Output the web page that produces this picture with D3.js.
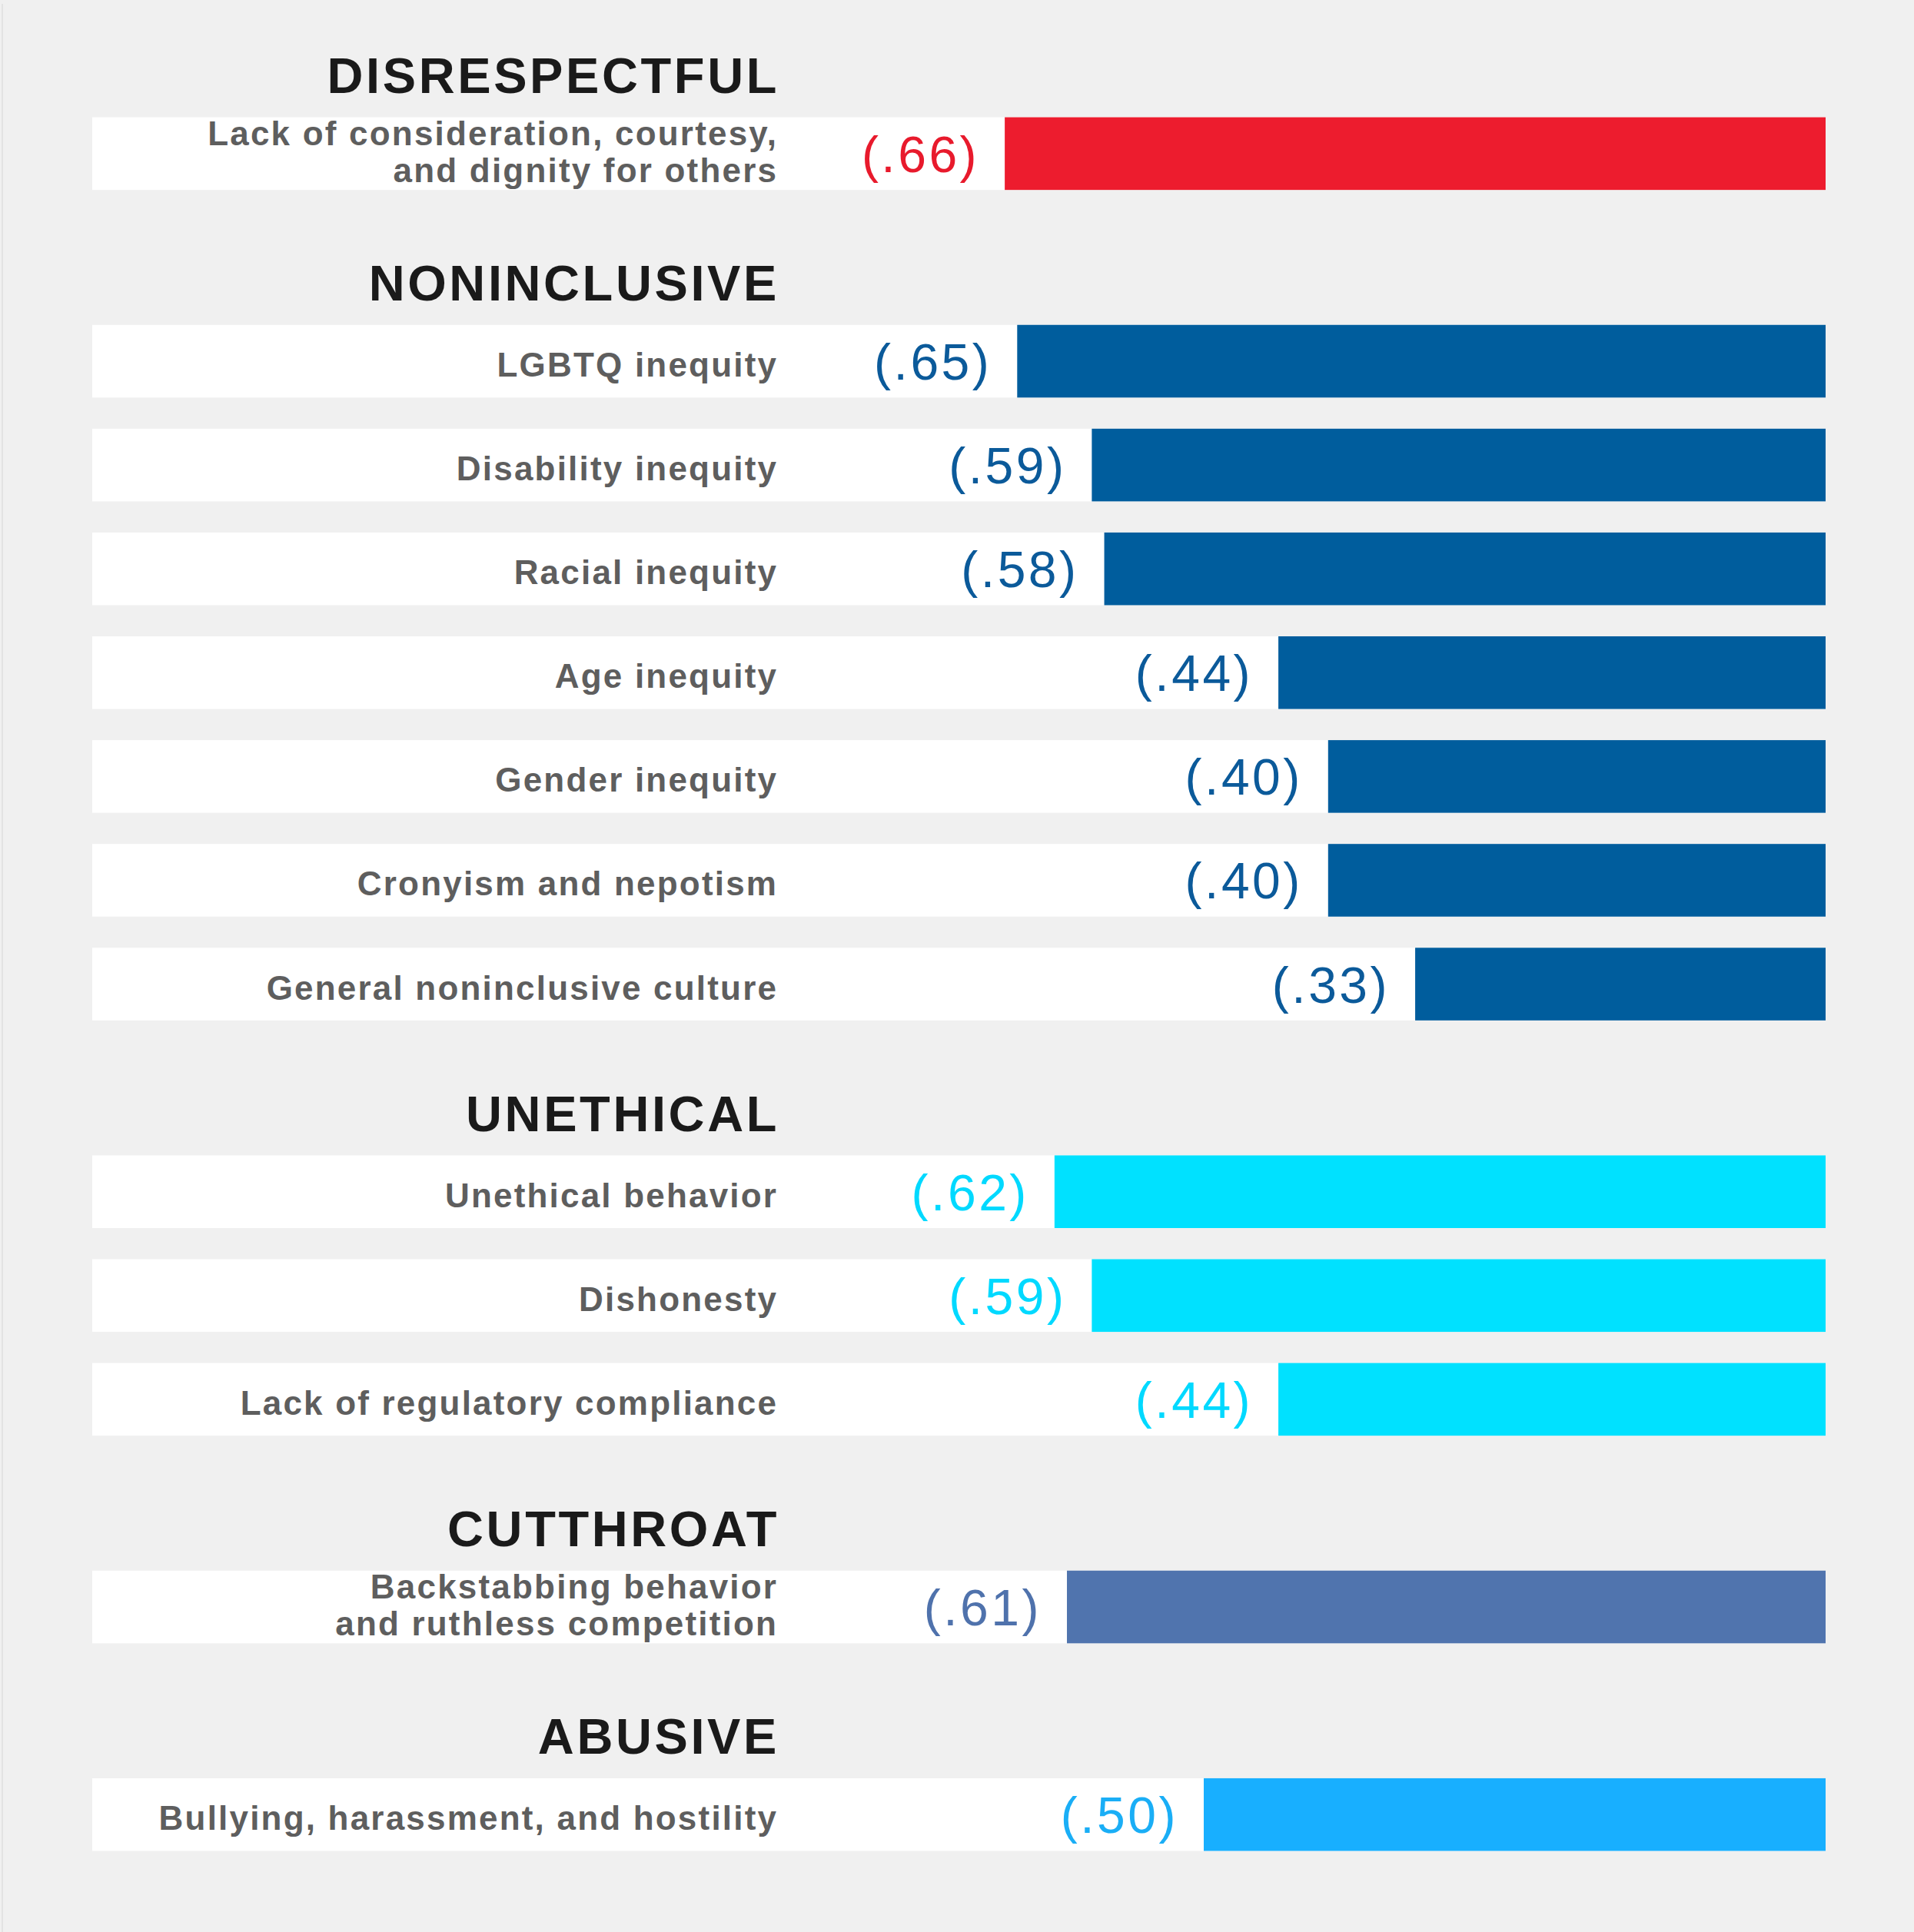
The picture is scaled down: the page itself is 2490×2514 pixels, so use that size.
<!DOCTYPE html>
<html>
<head>
<meta charset="utf-8">
<script src="https://cdn.jsdelivr.net/npm/d3@7"></script>
<style>
  body { margin: 0; background: #f0f0f0; }
  svg { display: block; }
</style>
</head>
<body>
<div id="chart"></div>
<script>
  var w = 2490,
      h = 2514;

  // categories (group headings) and their colours
  var groups = ["DISRESPECTFUL", "NONINCLUSIVE", "UNETHICAL", "CUTTHROAT", "ABUSIVE"];
  var barColors = ["#ed1c2e", "#005d9d", "#00e1ff", "#5074ae", "#18afff"];
  var valueColors = ["#e81a2c", "#0b5a9a", "#00d9ff", "#4f72ac", "#1aaef6"];

  // rows: label, group index, value
  var labels = [
    "Lack of consideration, courtesy,|and dignity for others",
    "LGBTQ inequity",
    "Disability inequity",
    "Racial inequity",
    "Age inequity",
    "Gender inequity",
    "Cronyism and nepotism",
    "General noninclusive culture",
    "Unethical behavior",
    "Dishonesty",
    "Lack of regulatory compliance",
    "Backstabbing behavior|and ruthless competition",
    "Bullying, harassment, and hostility"
  ];
  var rowGroup = [0, 1, 1, 1, 1, 1, 1, 1, 2, 2, 2, 3, 4];
  var values = [.66, .65, .59, .58, .44, .40, .40, .33, .62, .59, .44, .61, .50];

  // one slot per heading + one per row, in reading order
  var slots = [];
  labels.forEach(function(l, i) {
    if (i == 0 || rowGroup[i] != rowGroup[i - 1]) {
      slots.push({type: "head", key: "h" + rowGroup[i], g: rowGroup[i]});
    }
    slots.push({type: "row", key: "r" + i, g: rowGroup[i], label: l, value: values[i]});
  });

  var svg = d3.select("#chart").append("svg")
      .attr("width", w)
      .attr("height", h);

  svg.append("rect")
      .attr("width", w).attr("height", h)
      .attr("fill", "#f0f0f0");
  svg.append("rect")
      .attr("x", 2).attr("y", 5)
      .attr("width", 2).attr("height", h - 5)
      .attr("fill", "#e3e3e3");

  var y = d3.scaleBand()
      .domain(slots.map(function(d) { return d.key; }))
      .range([17.5, 2408.5])
      .paddingInner(0.3)
      .paddingOuter(0);

  var x = d3.scaleLinear()
      .domain([0, 1])
      .range([2375, 757]);

  var labelRight = 1010;
  var rows = slots.filter(function(d) { return d.type == "row"; });
  var heads = slots.filter(function(d) { return d.type == "head"; });

  // headings
  svg.selectAll("text.head").data(heads)
    .enter().append("text")
    .attr("class", "head")
    .attr("x", labelRight + 4)
    .attr("y", function(d) { return y(d.key) + y.bandwidth() + 9; })
    .attr("text-anchor", "end")
    .attr("font-family", "Liberation Sans, Arial, sans-serif")
    .attr("font-weight", "bold")
    .attr("font-size", 65)
    .attr("letter-spacing", 3.6)
    .attr("fill", "#1a1a1a")
    .text(function(d) { return groups[d.g]; });

  var row = svg.selectAll("g.row").data(rows)
    .enter().append("g")
    .attr("class", "row")
    .attr("transform", function(d) { return "translate(0," + y(d.key) + ")"; });

  // white strip behind each row
  row.append("rect")
    .attr("x", 120)
    .attr("y", 0)
    .attr("width", x(0) - 120)
    .attr("height", y.bandwidth())
    .attr("fill", "#ffffff");

  row.append("rect")
    .attr("x", function(d) { return x(d.value); })
    .attr("y", 0)
    .attr("width", function(d) { return x(0) - x(d.value); })
    .attr("height", y.bandwidth())
    .attr("fill", function(d) { return barColors[d.g]; });

  // row labels, "|" splits two-line labels
  var mid = y.bandwidth() / 2;
  row.append("text")
    .attr("text-anchor", "end")
    .attr("font-family", "Liberation Sans, Arial, sans-serif")
    .attr("font-weight", "bold")
    .attr("font-size", 44)
    .attr("letter-spacing", 2.2)
    .attr("fill", "#5e5e5e")
    .each(function(d) {
      var lines = d.label.split("|");
      var t = d3.select(this);
      lines.forEach(function(l, i) {
        var dy = lines.length == 1 ? mid + 20 : mid - 11 + i * 48;
        t.append("tspan")
          .attr("x", labelRight + 2.2)
          .attr("y", dy)
          .text(l);
      });
    });

  var fmt = d3.format(".2f");
  row.append("text")
    .attr("x", function(d) { return x(d.value) - 33; })
    .attr("y", mid + 24)
    .attr("text-anchor", "end")
    .attr("font-family", "Liberation Sans, Arial, sans-serif")
    .attr("font-size", 66)
    .attr("letter-spacing", 3.5)
    .attr("fill", function(d) { return valueColors[d.g]; })
    .text(function(d) { return "(" + fmt(d.value).slice(1) + ")"; });
</script>
</body>
</html>
